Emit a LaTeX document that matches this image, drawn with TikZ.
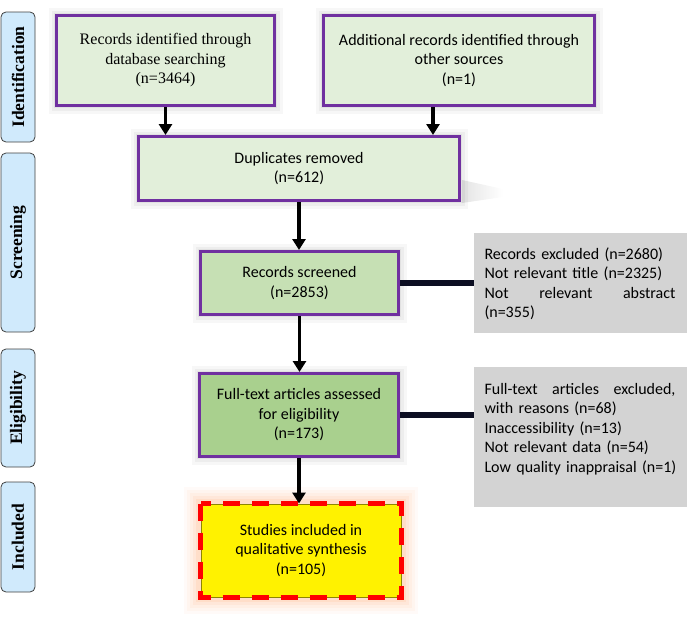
\documentclass[tikz,border=0pt]{standalone}
\usepackage{fontspec}
\setmainfont{Carlito}
\newfontfamily\tnr{Liberation Serif}
\usetikzlibrary{arrows.meta,calc}
\definecolor{purp}{RGB}{112,48,160}
\definecolor{lgA}{RGB}{226,239,218}
\definecolor{lgB}{RGB}{198,224,180}
\definecolor{lgC}{RGB}{169,208,142}
\definecolor{sideblue}{RGB}{208,234,252}
\definecolor{greybox}{RGB}{211,211,211}
\definecolor{connc}{RGB}{12,14,34}
\definecolor{glowc}{RGB}{255,140,70}
\begin{document}
\begin{tikzpicture}[x=1pt,y=-1pt,
  softshadow/.style={
    preaction={draw=black,opacity=0.03,line width=16pt},
    preaction={draw=black,opacity=0.04,line width=10pt},
    preaction={draw=black,opacity=0.05,line width=5pt}},
  flowbox/.style={softshadow,draw=purp,line width=3pt,fill=lgA,align=center,
    inner sep=2pt,font=\fontsize{16}{19.5}\selectfont},
  sidelabel/.style={draw=black!75,line width=0.8pt,fill=sideblue,rounded corners=5pt,
    rotate=90,minimum height=34pt,inner sep=0pt,font=\tnr\bfseries\fontsize{17.5}{20}\selectfont},
  arr/.style={line width=3.5pt,-{Triangle[width=13pt,length=11pt]}},
  conn/.style={line width=6pt,draw=connc},
  greyrect/.style={fill=greybox,inner sep=0pt,minimum width=213pt},
  greytext/.style={align=left,text width=192pt,inner sep=0pt,font=\fontsize{16}{19.5}\selectfont},
  finalbox/.style={
    preaction={draw=glowc,opacity=0.04,line width=34pt,rounded corners=14pt},
    preaction={draw=glowc,opacity=0.05,line width=28pt,rounded corners=12pt},
    preaction={draw=glowc,opacity=0.06,line width=22pt,rounded corners=9pt},
    preaction={draw=glowc,opacity=0.08,line width=16pt,rounded corners=6pt},
    preaction={draw=glowc,opacity=0.10,line width=10pt,rounded corners=3pt},
    fill=yellow,draw=olive,line width=1pt,align=center,
    inner sep=2pt,font=\fontsize{16}{19.5}\selectfont}
]
\useasboundingbox (0,0) rectangle (687,621);

% side labels
\node[sidelabel,minimum width=130pt] (s1) at (18,77) {Identification};
\node[sidelabel,minimum width=179pt] (s2) at (18,242.5) {Screening};
\node[sidelabel,minimum width=118pt] (s3) at (18,408) {Eligibility};
\node[sidelabel,minimum width=110pt] (s4) at (18,537) {Included};

% smear of shadow right of duplicates box
\shade[left color=black!30,right color=white,opacity=0.35] (462,180) -- (503,189) -- (503,197) -- (462,203) -- cycle;

% main boxes
\node[flowbox,minimum width=218pt,minimum height=90pt,font=\tnr\fontsize{16}{19.5}\selectfont] (b1) at (165.5,60.5)
  {Records identified through\\database searching\\(n=3464)};
\node[flowbox,minimum width=271pt,minimum height=90pt] (b2) at (459,60.5)
  {Additional records identified through\\other sources\\(n=1)};
\node[flowbox,minimum width=321pt,minimum height=64pt] (b3) at (299,168.5)
  {Duplicates removed\\(n=612)};
\node[flowbox,fill=lgB,minimum width=198pt,minimum height=63pt] (b4) at (299.5,283)
  {Records screened\\(n=2853)};
\node[flowbox,fill=lgC,minimum width=199pt,minimum height=83pt] (b5) at (299,415)
  {Full-text articles assessed\\for eligibility\\(n=173)};
\node[finalbox,minimum width=200pt,minimum height=93pt] (b6) at (301,550.5)
  {Studies included in\\qualitative synthesis\\(n=105)};
\draw[red,line width=4.5pt,dash pattern=on 17pt off 12pt] (b6.north west) rectangle (b6.south east);

% grey exclusion boxes
\node[greyrect,minimum height=100pt] (g1) at (580.5,283) {};
\node[greytext] (t1) at (580.5,284)
  {Records excluded (n=2680)\\Not relevant title (n=2325)\\\makebox[191pt][s]{Not\hfill relevant\hfill abstract}\\(n=355)};
\node[greyrect,minimum height=140pt] (g2) at (580.5,437) {};
\node[greytext] (t2) at (580.5,429)
  {\makebox[191pt][s]{Full-text\hfill articles\hfill excluded,}\\with reasons (n=68)\\Inaccessibility (n=13)\\Not relevant data (n=54)\\Low quality inappraisal (n=1)};

% arrows
\draw[arr] (b1.south) -- (b1.south |- b3.north);
\coordinate (b2out) at ([xshift=-26pt]b2.south);
\draw[arr] (b2out) -- (b2out |- b3.north);
\draw[arr] (b3.south) -- (b3.south |- b4.north);
\draw[arr] (b4.south) -- (b4.south |- b5.north);
\draw[arr] (b5.south) -- (b5.south |- b6.north);

% connectors to exclusion boxes
\draw[conn] (b4.east) -- (b4.east -| g1.west);
\draw[conn] (b5.east) -- (b5.east -| g2.west);
\end{tikzpicture}
\end{document}
